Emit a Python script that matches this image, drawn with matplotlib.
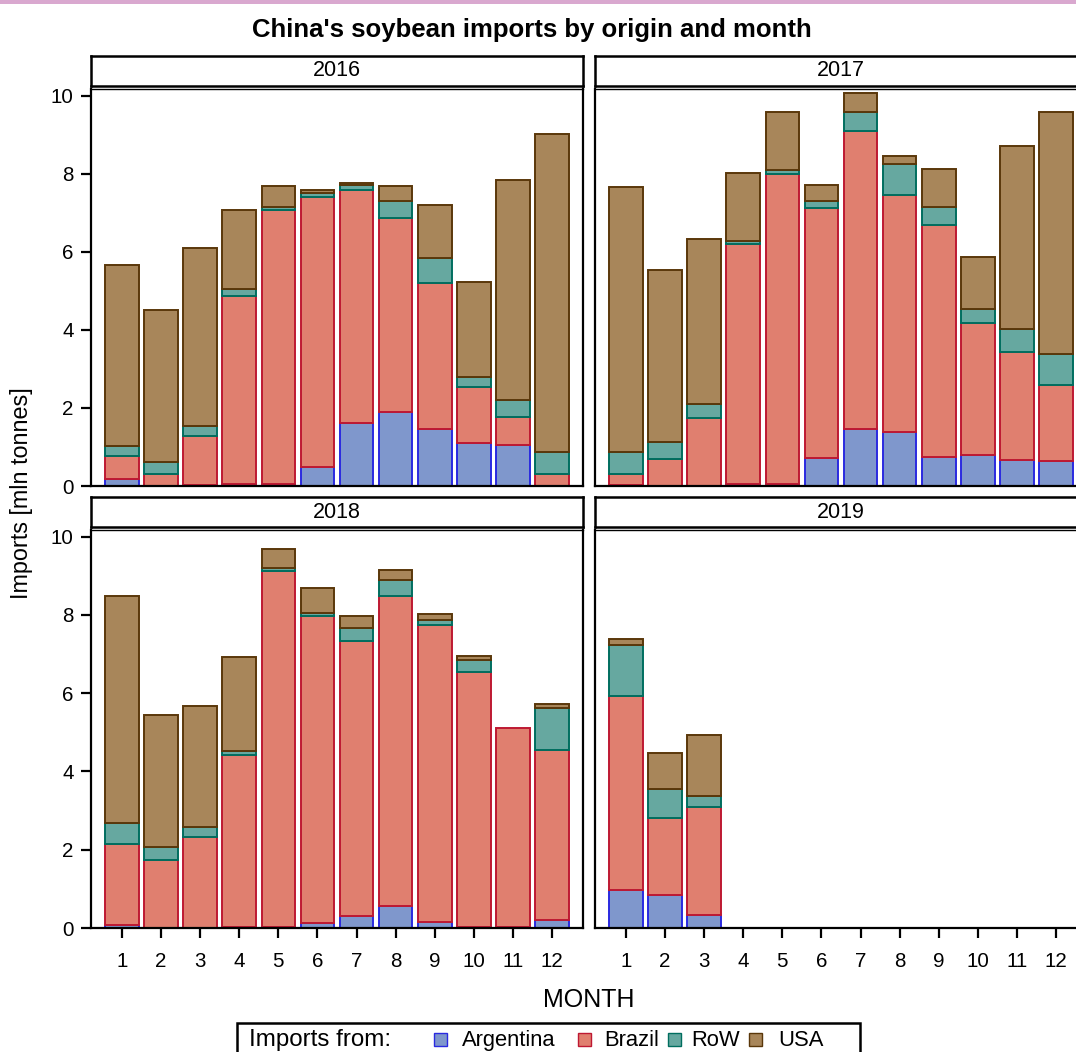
import numpy as np
import matplotlib
matplotlib.use("Agg")
import matplotlib.pyplot as plt
from matplotlib.patches import Rectangle

plt.rcParams['font.family'] = ['Liberation Sans', 'DejaVu Sans']

# ---------------- data (mln tonnes) ----------------
years = ['2016', '2017', '2018', '2019']
origins = ['Argentina', 'Brazil', 'RoW', 'USA']
month_ticks = [1, 2, 3, 4, 5, 6, 7, 8, 9, 10, 11, 12]
months_2016 = [1, 2, 3, 4, 5, 6, 7, 8, 9, 10, 11, 12]
months_2017 = [1, 2, 3, 4, 5, 6, 7, 8, 9, 10, 11, 12]
months_2018 = [1, 2, 3, 4, 5, 6, 7, 8, 9, 10, 11, 12]
months_2019 = [1, 2, 3]

arg_2016 = [0.18, 0.00, 0.02, 0.06, 0.05, 0.49, 1.62, 1.90, 1.45, 1.11, 1.05, 0.00]
bra_2016 = [0.60, 0.30, 1.26, 4.81, 7.02, 6.91, 5.96, 4.96, 3.75, 1.43, 0.73, 0.31]
row_2016 = [0.24, 0.32, 0.25, 0.17, 0.07, 0.10, 0.12, 0.44, 0.64, 0.26, 0.42, 0.57]
usa_2016 = [4.64, 3.90, 4.56, 2.03, 0.54, 0.08, 0.07, 0.38, 1.36, 2.42, 5.64, 8.14]

arg_2017 = [0.03, 0.00, 0.00, 0.05, 0.06, 0.71, 1.47, 1.38, 0.75, 0.79, 0.66, 0.63]
bra_2017 = [0.28, 0.68, 1.75, 6.14, 7.92, 6.41, 7.63, 6.07, 5.93, 3.38, 2.77, 1.95]
row_2017 = [0.57, 0.44, 0.35, 0.08, 0.12, 0.18, 0.48, 0.80, 0.47, 0.36, 0.60, 0.79]
usa_2017 = [6.77, 4.41, 4.23, 1.75, 1.48, 0.40, 0.50, 0.20, 0.97, 1.33, 4.67, 6.20]

arg_2018 = [0.08, 0.00, 0.00, 0.02, 0.02, 0.12, 0.30, 0.55, 0.15, 0.03, 0.03, 0.20]
bra_2018 = [2.07, 1.74, 2.33, 4.39, 9.10, 7.84, 7.04, 7.94, 7.59, 6.52, 5.08, 4.36]
row_2018 = [0.53, 0.34, 0.25, 0.12, 0.08, 0.08, 0.32, 0.39, 0.12, 0.30, 0.00, 1.07]
usa_2018 = [5.81, 3.36, 3.09, 2.40, 0.49, 0.66, 0.32, 0.27, 0.16, 0.09, 0.00, 0.10]

arg_2019 = [0.98, 0.85, 0.33]
bra_2019 = [4.94, 1.97, 2.77]
row_2019 = [1.31, 0.72, 0.28]
usa_2019 = [0.15, 0.92, 1.54]

fills = ['#7f97cc', '#e07f6f', '#66a8a0', '#a8865a']
edges = ['#2a2ae0', '#be1932', '#006e5f', '#5a370a']

panel_data = {
    '2016': (months_2016, [arg_2016, bra_2016, row_2016, usa_2016]),
    '2017': (months_2017, [arg_2017, bra_2017, row_2017, usa_2017]),
    '2018': (months_2018, [arg_2018, bra_2018, row_2018, usa_2018]),
    '2019': (months_2019, [arg_2019, bra_2019, row_2019, usa_2019]),
}

W, H = 1076, 1052
fig = plt.figure(figsize=(W / 100, H / 100), dpi=100)


def fx(px):
    return px / W


def fy(py):
    return 1 - py / H


# panel geometry in pixels
cols = [(91, 583), (595, 1087)]
rows = [(56, 86, 89, 486), (497, 527, 530, 928)]

for i, yr in enumerate(years):
    r, c = divmod(i, 2)
    l, rt = cols[c]
    st, sb, pt, pb = rows[r]
    ax = fig.add_axes([fx(l), fy(pb), fx(rt - l), (pb - pt) / H])
    months, series = panel_data[yr]
    x = np.array(months, dtype=float)
    bottom = np.zeros(len(x))
    for k, vals in enumerate(series):
        v = np.array(vals, dtype=float)
        m = v > 0
        ax.bar(x[m], v[m], bottom=bottom[m], width=0.86, color=fills[k],
               edgecolor=edges[k], linewidth=1.4, zorder=2)
        bottom = bottom + v
    ax.set_xlim(0.21, 12.79)
    ax.set_ylim(0, 10.17)
    ax.set_yticks([0, 2, 4, 6, 8, 10])
    ax.set_xticks(month_ticks)
    for sp in ax.spines.values():
        sp.set_linewidth(1.6)
    ax.spines['top'].set_linewidth(1.0)
    ax.tick_params(axis='both', direction='out', length=7.5, width=1.6,
                   labelsize=14.8)
    ax.tick_params(axis='x', pad=10)
    ax.tick_params(axis='y', pad=5)
    if c == 1:
        ax.tick_params(axis='y', left=False, labelleft=False)
    if r == 0:
        ax.tick_params(axis='x', bottom=False, labelbottom=False)

    sax = fig.add_axes([fx(l), fy(sb), fx(rt - l), (sb - st) / H])
    sax.set_xticks([])
    sax.set_yticks([])
    for sp in sax.spines.values():
        sp.set_linewidth(1.8)
    sax.text(0.5, 0.5, yr, transform=sax.transAxes, ha='center', va='center',
             fontsize=15.5)

# title and axis labels
fig.text(fx(532), fy(30), "China's soybean imports by origin and month",
         ha='center', va='center', fontsize=18.5, fontweight='bold')
fig.text(fx(589), fy(1000), 'MONTH', ha='center', va='center', fontsize=18)
fig.text(fx(22), fy(493), 'Imports [mln tonnes]', ha='center', va='center',
         rotation=90, fontsize=16.8)

# pink band at top
fig.add_artist(Rectangle((0, fy(4)), 1, 4 / H, transform=fig.transFigure,
                         facecolor='#d9a8cf', edgecolor='none'))

# legend (manual layout to match the reference spacing)
fig.add_artist(Rectangle((fx(237), fy(1070)), fx(623), (1070 - 1023) / H,
                         transform=fig.transFigure, facecolor='white',
                         edgecolor='black', linewidth=1.8))
fig.text(fx(249), fy(1046), 'Imports from:', ha='left', va='baseline',
         fontsize=17.4)
sq_x = [434, 578, 668, 749]
txt_x = [462, 604, 691, 778]
for k in range(4):
    fig.add_artist(Rectangle((fx(sq_x[k]), fy(1046)), fx(13), 13 / H,
                             transform=fig.transFigure, facecolor=fills[k],
                             edgecolor=edges[k], linewidth=1.0))
    fig.text(fx(txt_x[k]), fy(1046), origins[k], ha='left', va='baseline',
             fontsize=15.8)

fig.savefig('out.png', dpi=100)
